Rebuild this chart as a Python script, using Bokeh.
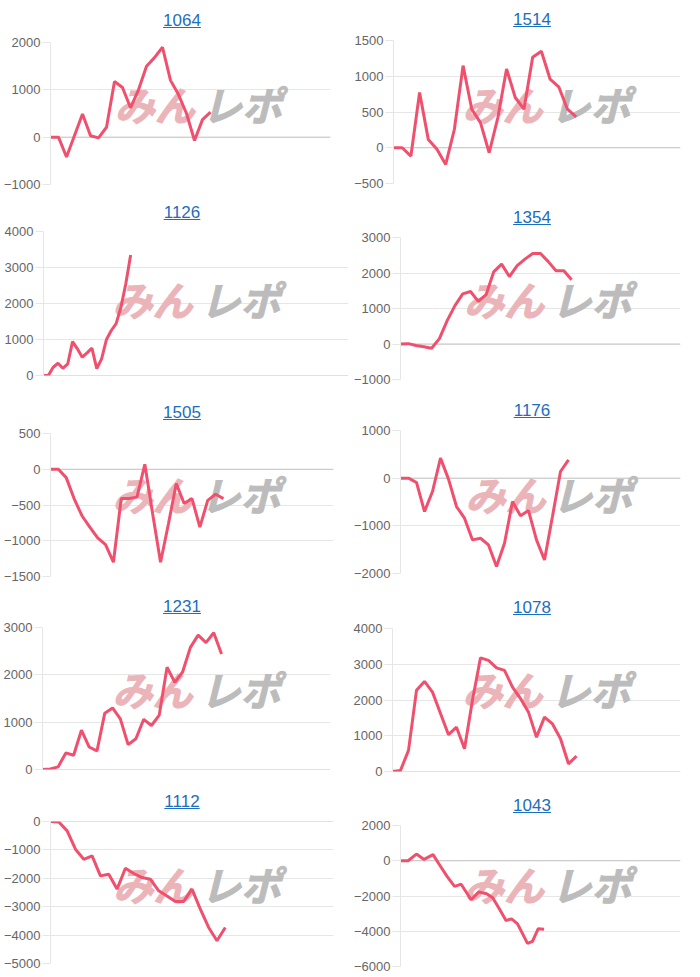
from bokeh.plotting import figure
from bokeh.layouts import row, column
from bokeh.models import Div, Range1d, FixedTicker, Span, Label
from bokeh.embed import file_html
from bokeh.resources import INLINE

# ---------------- data ----------------
titles = ["1064", "1514", "1126", "1354", "1505", "1176", "1231", "1078", "1112", "1043"]

values_1064 = [0, 0, -420, 35, 490, 30, -15, 210, 1175, 1050, 620, 1000, 1500, 1680,
               1900, 1200, 900, 500, -70, 370, 530]
values_1514 = [0, 0, -117, 773, 117, -20, -234, 258, 1149, 539, 352, -70, 422, 1102,
               703, 539, 1266, 1350, 961, 853, 539, 431]
values_1126 = [0, 0, 230, 340, 200, 320, 940, 740, 510, 630, 760, 190, 460, 1000,
               1250, 1440, 1900, 2550, 3350]
values_1354 = [0, 10, -40, -80, -120, 150, 660, 1080, 1410, 1480, 1200, 1390, 2040,
               2250, 1900, 2210, 2390, 2550, 2550, 2320, 2065, 2065, 1810]
values_1505 = [0, 0, -117, -410, -650, -810, -960, -1055, -1300, -410, -410, -390, 70,
               -625, -1300, -765, -200, -480, -410, -810, -435, -350, -410]
values_1176 = [0, 0, -90, -700, -280, 420, -20, -595, -840, -1295, -1260, -1400, -1855,
               -1365, -490, -790, -680, -1295, -1715, -800, 140, 385]
values_1231 = [0, 10, 55, 350, 300, 830, 475, 390, 1190, 1300, 1070, 525, 650, 1060,
               930, 1150, 2160, 1840, 2060, 2580, 2840, 2680, 2890, 2440]
values_1078 = [0, 30, 590, 2270, 2520, 2220, 1620, 1030, 1240, 635, 2000, 3180, 3110,
               2900, 2830, 2360, 2040, 1660, 960, 1520, 1330, 915, 215, 430]
values_1112 = [0, -20, -330, -975, -1330, -1210, -1915, -1855, -2380, -1645, -1830,
               -1975, -2030, -2440, -2620, -2815, -2815, -2380, -3085, -3730, -4200, -3730]
values_1043 = [0, 0, 380, 75, 345, -300, -900, -1450, -1330, -2210, -1770, -1870, -2095,
               -2720, -3390, -3295, -3580, -4690, -4570, -3865, -3885]
# x positions read for 1043 (irregular spacing); others are evenly spaced
x_1043 = [0, 1.06, 2.22, 3.28, 4.53, 5.54, 6.51, 7.53, 8.45, 9.84, 10.9, 12.0, 12.84,
          13.76, 14.69, 15.47, 16.3, 17.69, 18.38, 19.17, 20.0]

# length of each x axis (in point steps)
x_lengths = [35, 33, 63, 36, 36, 35, 37, 36, 34, 39]

ticks_1064 = [-1000, 0, 1000, 2000]
ticks_1514 = [-500, 0, 500, 1000, 1500]
ticks_1126 = [0, 1000, 2000, 3000, 4000]
ticks_1354 = [-1000, 0, 1000, 2000, 3000]
ticks_1505 = [-1500, -1000, -500, 0, 500]
ticks_1176 = [-2000, -1000, 0, 1000]
ticks_1231 = [0, 1000, 2000, 3000]
ticks_1078 = [0, 1000, 2000, 3000, 4000]
ticks_1112 = [-5000, -4000, -3000, -2000, -1000, 0]
ticks_1043 = [-6000, -4000, -2000, 0, 2000]

series = [values_1064, values_1514, values_1126, values_1354, values_1505,
          values_1176, values_1231, values_1078, values_1112, values_1043]
xs_list = [None, None, None, None, None, None, None, None, None, x_1043]
ticks_list = [ticks_1064, ticks_1514, ticks_1126, ticks_1354, ticks_1505,
              ticks_1176, ticks_1231, ticks_1078, ticks_1112, ticks_1043]

# ---------------- layout (panel-relative pixels) ----------------
# (title center y, frame top, frame bottom, frame left, frame right)
geometry = [
    (21, 42, 184, 47, 330),
    (20, 40, 183, 43, 330),
    (18, 36, 180, 43, 348),
    (23, 42, 184, 48, 330),
    (23, 43, 186, 50, 333),
    (21, 40, 183, 46, 330),
    (22, 42, 184, 42, 330),
    (23, 43, 186, 42, 330),
    (22, 41, 183, 49, 333),
    (26, 45, 186, 48, 330),
]

PANEL_W, PANEL_H = 350, 195
LINE_COLOR = "#f0506e"
GRID_COLOR = "#e6e6e6"
ZERO_COLOR = "#c4c4c4"
WM_PINK = "#ebb4b9"
WM_GRAY = "#bcbcbc"


def make_panel(title, ys, xs, n, ticks, geo):
    cy, ft, fb, fl, fr = geo
    div_h = cy + 10
    html = (
        '<div style="width:350px;box-sizing:border-box;padding-left:14px;'
        f'margin-top:{cy - 10}px;text-align:center;'
        "font-family:'Liberation Sans',Arial,sans-serif;font-size:17px;"
        'line-height:20px;color:#1c6ebe;text-decoration:underline;">'
        f'{title}</div>'
    )
    div = Div(text=html, width=PANEL_W, height=div_h, margin=(0, 0, 0, 0))

    y0, y1 = ticks[0], ticks[-1]
    p = figure(
        width=PANEL_W, height=PANEL_H - div_h,
        x_range=Range1d(0, n), y_range=Range1d(y0, y1),
        x_axis_location=None, toolbar_location=None, output_backend="svg",
        title=None,
        min_border_left=fl, min_border_right=PANEL_W - fr,
        min_border_top=ft - div_h, min_border_bottom=PANEL_H - fb,
    )
    p.outline_line_color = None
    p.background_fill_color = "white"
    p.border_fill_color = "white"
    p.xgrid.visible = False

    ticker = FixedTicker(ticks=ticks)
    p.yaxis.ticker = ticker
    p.ygrid.ticker = ticker
    p.ygrid.grid_line_color = GRID_COLOR
    p.yaxis.axis_line_color = GRID_COLOR
    p.yaxis.major_tick_line_color = GRID_COLOR
    p.yaxis.major_tick_out = 8
    p.yaxis.major_tick_in = 0
    p.yaxis.minor_tick_line_color = None
    p.yaxis.major_label_standoff = 2
    p.yaxis.major_label_text_font = "Liberation Sans"
    p.yaxis.major_label_text_font_size = "13px"
    p.yaxis.major_label_text_color = "#666666"

    if y0 <= 0 <= y1:
        p.add_layout(Span(location=0, dimension="width", line_color=ZERO_COLOR,
                          line_width=1, level="underlay"))

    # watermark
    def dx(px):
        return (px - fl) / (fr - fl) * n

    def dy(py):
        return y1 - (py - ft) / (fb - ft) * (y1 - y0)

    p.add_layout(Label(x=dx(112), y=dy(103), text="みん",
                       text_font="Noto Sans CJK JP", text_font_size="40px",
                       text_font_style="bold italic", text_color=WM_PINK,
                       text_outline_color=WM_PINK,
                       text_baseline="middle", text_align="left", level="underlay"))
    p.add_layout(Label(x=dx(200), y=dy(103), text="レポ",
                       text_font="Noto Sans CJK JP", text_font_size="40px",
                       text_font_style="bold italic", text_color=WM_GRAY,
                       text_outline_color=WM_GRAY,
                       text_baseline="middle", text_align="left", level="underlay"))

    x = xs if xs is not None else list(range(len(ys)))
    p.line(x, ys, line_color=LINE_COLOR, line_width=3)
    return column(div, p, spacing=0)


panels = [make_panel(titles[i], series[i], xs_list[i], x_lengths[i], ticks_list[i], geometry[i])
          for i in range(10)]
rows = [row(panels[2 * r], panels[2 * r + 1], spacing=0) for r in range(5)]
layout = column(*rows, spacing=0)

open("out.html", "w").write(file_html(layout, INLINE))
